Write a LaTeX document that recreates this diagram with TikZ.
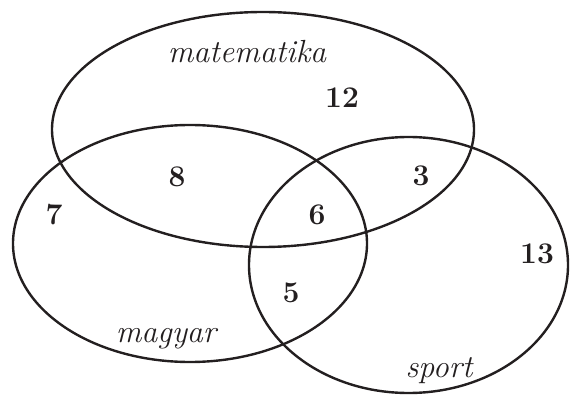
\documentclass[tikz,border=0pt]{standalone}
\usepackage{fontspec}
\usepackage{tikz}
\usetikzlibrary{positioning}
\definecolor{ink}{HTML}{231f20}
\tikzset{
  set/.style={draw=ink,line width=2.4pt},
  num/.style={anchor=base,inner sep=0pt,text=ink,font=\fontsize{30}{32}\selectfont\bfseries},
  setname/.style={anchor=base,inner sep=0pt,text=ink,font=\fontsize{32}{34}\selectfont\itshape},
}

\begin{document}
\begin{tikzpicture}[x=1pt,y=-1pt]
  \useasboundingbox (0,0) rectangle (570,395);
  % the three sets
  \draw[set] (263,129.5) ellipse [x radius=211pt,y radius=117.5pt];
  \draw[set] (190,243.5) ellipse [x radius=177pt,y radius=118.5pt];
  \draw[set] (408.5,265) ellipse [x radius=159.5pt,y radius=128pt];
  % names
  \node[setname] (mat) at (247,63) {matematika};
  \node[setname] (mag) at (166,342) {magyar};
  \node[setname] (spo) at (439,377) {sport};
  % counts
  \node[num] (m12) at (342,108) {12};
  \node[num] (mm8) at (177,187) {8};
  \node[num] (ms3) at (421,186) {3};
  \node[num] (g7)  at (54,225)  {7};
  \node[num] (all6) at (317,225) {6};
  \node[num] (gs5) at (291,302) {5};
  \node[num] (s13) at (537,264) {13};
\end{tikzpicture}
\end{document}
